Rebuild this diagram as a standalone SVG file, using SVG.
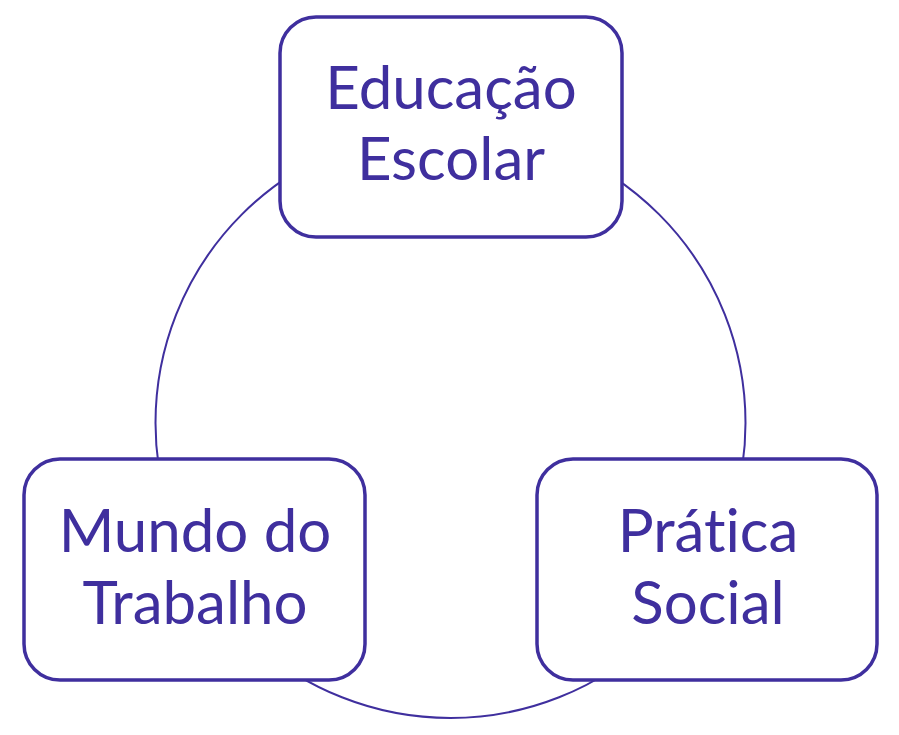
<svg xmlns="http://www.w3.org/2000/svg" width="899" height="735" viewBox="0 0 899 735">
<style>
.box{fill:#fff;stroke:#3f2f9e;stroke-width:3.5}
.lbl{font-family:Lato,"Noto Sans",sans-serif;font-size:60px;fill:#3f2f9e;text-anchor:middle;font-variant-ligatures:none}
.conn{fill:none;stroke:#3f2f9e;stroke-width:2}
</style>
<rect width="899" height="735" fill="#fff"/>
<g id="connectors">
<circle class="conn" cx="450.5" cy="423" r="295"/>
</g>
<g id="educacao">
<rect class="box" x="280" y="17" width="342" height="220" rx="36"/>
<text class="lbl" x="451" y="109">Educação</text>
<text class="lbl" x="451" y="180">Escolar</text>
</g>
<g id="mundo">
<rect class="box" x="24" y="459" width="341" height="221" rx="36"/>
<text class="lbl" x="195" y="552">Mundo do</text>
<text class="lbl" x="195" y="624">Trabalho</text>
</g>
<g id="pratica">
<rect class="box" x="537" y="459" width="340" height="221" rx="36"/>
<text class="lbl" x="708" y="552">Prática</text>
<text class="lbl" x="708" y="624">Social</text>
</g>
</svg>
